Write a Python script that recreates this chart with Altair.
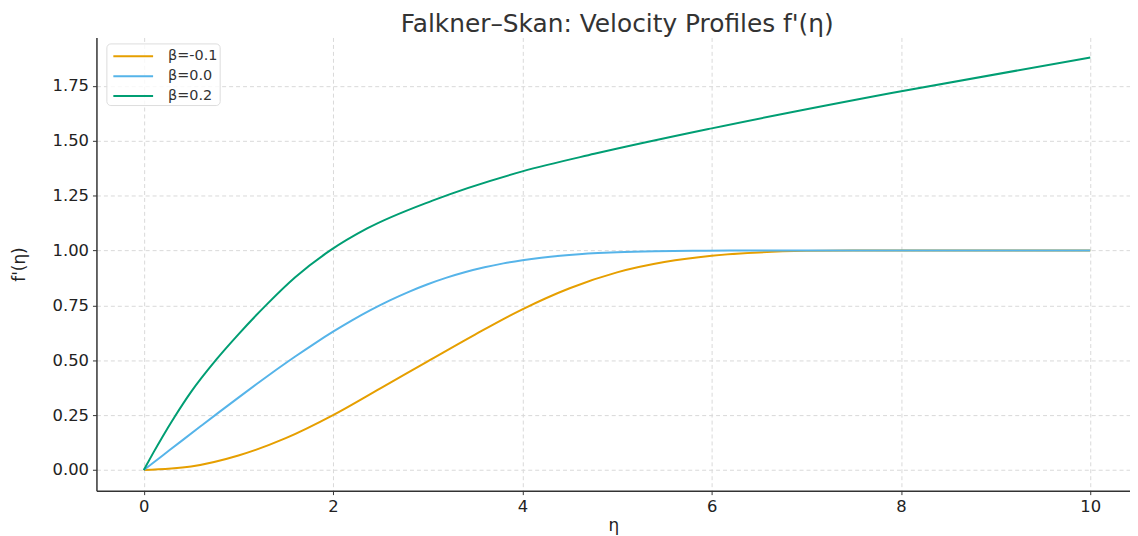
import altair as alt
import pandas as pd

# Data
eta_neg = [0, 0.5, 1, 1.5, 2, 2.5, 3, 3.5, 4, 4.5, 5, 5.5, 6, 6.5, 7, 7.5, 8, 9, 10]
fp_neg = [0, 0.016, 0.066, 0.145, 0.25, 0.372, 0.495, 0.617, 0.732, 0.828, 0.9, 0.947, 0.976,
          0.991, 0.998, 1.0, 1.0, 1.0, 1.0]

eta_zero = [0, 0.2, 0.4, 0.6, 0.8, 1.0, 1.2, 1.4, 1.6, 1.8, 2.0, 2.2, 2.4, 2.6, 2.8, 3.0,
            3.2, 3.4, 3.6, 3.8, 4.0, 4.2, 4.4, 4.6, 4.8, 5.0, 5.4, 5.8, 6.2, 6.6, 7.0, 8, 9, 10]
fp_zero = [0, 0.0664, 0.1328, 0.1989, 0.2647, 0.3298, 0.3938, 0.4563, 0.5168, 0.5748, 0.6298,
           0.6813, 0.729, 0.7725, 0.8115, 0.846, 0.8761, 0.9018, 0.9233, 0.9411, 0.9555, 0.967,
           0.9759, 0.9827, 0.9878, 0.9916, 0.9962, 0.9984, 0.9994, 0.9998, 0.9999, 1.0, 1.0, 1.0]

eta_pos = [0, 0.1, 0.2, 0.33, 0.5, 0.77, 1.0, 1.29, 1.6, 1.97, 2.36, 3.05, 4.0, 4.76, 6.0, 7.9, 10]
fp_pos = [0, 0.078, 0.153, 0.245, 0.356, 0.505, 0.618, 0.75, 0.878, 1.0, 1.10, 1.227, 1.36,
          1.44, 1.556, 1.717, 1.879]

labels = ["β=-0.1", "β=0.0", "β=0.2"]
colors = ["#E69F00", "#56B4E9", "#009E73"]

rows = []
for lab, xs, ys in zip(labels, [eta_neg, eta_zero, eta_pos], [fp_neg, fp_zero, fp_pos]):
    for i, (x, y) in enumerate(zip(xs, ys)):
        rows.append({"eta": x, "fp": y, "beta": lab, "order": i})
df = pd.DataFrame(rows)

FONT = "DejaVu Sans"

chart = alt.Chart(df).mark_line(strokeWidth=2, interpolate="monotone", clip=True).encode(
    x=alt.X("eta:Q", title="η",
            scale=alt.Scale(domain=[-0.5, 10.42], nice=False, zero=False),
            axis=alt.Axis(values=[0, 2, 4, 6, 8, 10], format="d")),
    y=alt.Y("fp:Q", title="f'(η)",
            scale=alt.Scale(domain=[-0.094, 1.97], nice=False, zero=False),
            axis=alt.Axis(values=[0, 0.25, 0.5, 0.75, 1.0, 1.25, 1.5, 1.75], format=".2f")),
    color=alt.Color("beta:N", scale=alt.Scale(domain=labels, range=colors),
                    legend=alt.Legend(title=None, orient="none", legendX=10, legendY=6,
                                      symbolType="M-2,0H2", symbolSize=400, symbolStrokeWidth=2,
                                      symbolOffset=14,
                                      labelFont=FONT, labelFontSize=14.5, labelColor="#333333",
                                      fillColor="rgba(255,255,255,0.8)", strokeColor="#dddddd",
                                      cornerRadius=4, padding=2, rowPadding=2, labelOffset=24)),
    order="order:Q",
).properties(
    width=1040, height=456,
    title=alt.TitleParams("Falkner–Skan: Velocity Profiles f'(η)", font=FONT, fontSize=25,
                          fontWeight="normal", color="#333333", offset=0,
                          anchor="middle", dx=4),
    autosize=alt.AutoSizeParams(type="none"),
    padding={"left": 89, "top": 28, "right": 0, "bottom": 44},
).configure_view(stroke=None).configure_axis(
    labelFont=FONT, labelFontSize=16.5, labelColor="#222222",
    titleFont=FONT, titleFontSize=17, titleColor="#222222", titleFontWeight="normal",
    domainColor="#333333", domainWidth=1.5, tickColor="#333333", tickSize=4, labelPadding=4,
    gridColor="#d9d9d9", gridDash=[4, 3], gridWidth=1,
).configure_axisY(titlePadding=24).configure_axisX(titlePadding=3)

chart.save("out.html", embed_options={"renderer": "svg", "actions": False})
